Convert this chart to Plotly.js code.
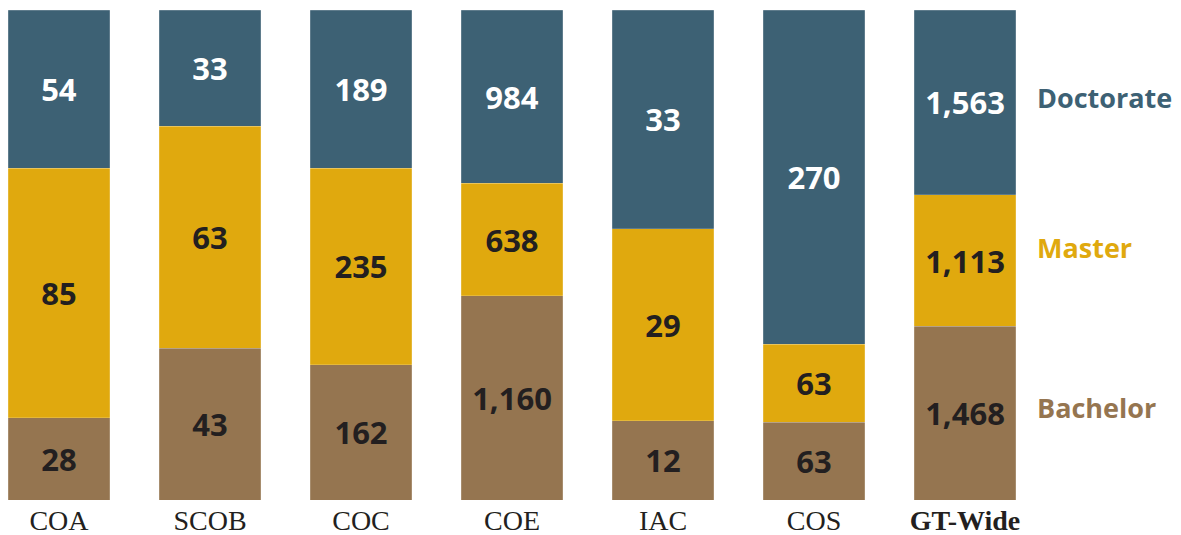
<!DOCTYPE html>
<html>
<head>
<meta charset="utf-8">
<script src="https://cdn.plot.ly/plotly-3.0.1.min.js"></script>
<style>html,body{margin:0;padding:0;background:#fff;}#chart{width:1181px;height:535px;}</style>
</head>
<body>
<div id="chart"></div>
<script>
const categories = ['COA', 'SCOB', 'COC', 'COE', 'IAC', 'COS', 'GT-Wide'];
const tickLabels = ['COA', 'SCOB', 'COC', 'COE', 'IAC', 'COS', '<b>GT-Wide</b>'];
const bachelor = [28, 43, 162, 1160, 12, 63, 1468];
const master = [85, 63, 235, 638, 29, 63, 1113];
const doctorate = [54, 33, 189, 984, 33, 270, 1563];
const seriesNames = ['Bachelor', 'Master', 'Doctorate'];

const colors = {Bachelor: '#957550', Master: '#e0a90e', Doctorate: '#3d6174'};
const textColors = {Bachelor: '#231f20', Master: '#231f20', Doctorate: '#ffffff'};
const fmt = v => v.toLocaleString('en-US');

const seriesData = {Bachelor: bachelor, Master: master, Doctorate: doctorate};
const traces = seriesNames.map(name => ({
  type: 'bar',
  name: name,
  x: categories,
  y: seriesData[name],
  text: seriesData[name].map(fmt),
  textposition: 'inside',
  insidetextanchor: 'middle',
  textangle: 0,
  constraintext: 'none',
  insidetextfont: {family: 'Open Sans', size: 31, color: textColors[name], weight: 700},
  marker: {color: colors[name], line: {width: 0.5, color: 'rgba(255,255,255,0.35)'}},
  hoverinfo: 'skip'
}));

const pxPerCat = 151;
const firstCenter = 59;
const left = -firstCenter / pxPerCat;
const right = left + 1181 / pxPerCat;

const legendY = {Doctorate: 0.822, Master: 0.516, Bachelor: 0.189};
const annotations = seriesNames.map(name => ({
  xref: 'x', yref: 'paper',
  x: 6.465, y: legendY[name],
  xanchor: 'left', yanchor: 'middle',
  text: '<b>' + name + '</b>',
  showarrow: false,
  font: {family: 'Open Sans', size: 27, color: colors[name]}
}));

const layout = {
  width: 1181, height: 535,
  margin: {l: 0, r: 0, t: 10, b: 35},
  paper_bgcolor: '#ffffff', plot_bgcolor: '#ffffff',
  barmode: 'stack',
  barnorm: 'percent',
  bargap: 0.325,
  showlegend: false,
  xaxis: {
    type: 'category',
    range: [left, right],
    tickmode: 'array',
    tickvals: categories,
    ticktext: tickLabels,
    showgrid: false, zeroline: false, showline: false, ticks: '',
    ticklabelstandoff: 1,
    tickfont: {family: 'Liberation Serif', size: 28, color: '#231f20'}
  },
  yaxis: {range: [0, 100], visible: false, showgrid: false, zeroline: false},
  annotations: annotations
};

Plotly.newPlot('chart', traces, layout, {staticPlot: true, displayModeBar: false});
</script>
</body>
</html>
